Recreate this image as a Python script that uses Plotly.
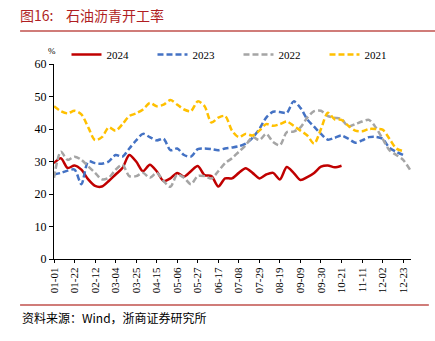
import datetime as dt
import plotly.graph_objects as go

# weekly categories (MM-DD), 53 weeks
start = dt.date(2024, 1, 1)
weeks = [(start + dt.timedelta(days=7 * i)).strftime("%m-%d") for i in range(53)]
tick_labels = weeks[0:52:3]

s2024 = [29.5, 31, 28, 28.8, 27.5, 24.5, 22.5, 22.3, 24, 26, 28, 32, 30, 27, 29, 27,
         24, 24.8, 26.5, 25.3, 27, 28.6, 25.8, 25.5, 22.3, 24.8, 24.8, 26.5, 27.9, 26.5,
         24.8, 26, 26.5, 24.5, 28.3, 26.5, 24.3, 25.2, 26.5, 28.4, 28.8, 28.2, 28.7]
s2023 = [26, 26.5, 27.2, 27.5, 23, 30, 29.5, 29.3, 30, 32, 31.5, 34, 36.5, 38.5, 37.5, 36.5,
         37, 33.5, 34, 32, 31.5, 33.8, 34, 33.8, 33.5, 34, 34.3, 34.7, 35.5, 37.3,
         40, 43.5, 45.3, 45.2, 45, 48.5, 46.5, 43, 40.7, 38.5, 36.7, 37.3, 38, 37, 35.8,
         36.5, 37.5, 37.6, 37, 34.2, 33, 32]
s2022 = [25, 33, 30.5, 31.5, 30.5, 28.5, 26.5, 24.5, 25, 27.5, 29, 25.5, 25.5, 26.5, 25, 26.5,
         24, 22.2, 26, 25, 23, 25.5, 25.5, 24.8, 27, 29.5, 31, 33, 35, 37.5,
         36.6, 38.5, 36, 35, 39, 39.2, 40.5, 43.5, 45.5, 45.6, 44, 43.5, 43, 40.8, 41.5,
         42.3, 42.8, 40.5, 37, 33.5, 32, 30.5, 27.5]
s2021 = [47, 45.5, 44.8, 45.6, 44.5, 40.5, 36.6, 37.5, 40.5, 39.5, 41.5, 44, 44.8, 46, 48, 47,
         47.5, 48.9, 47.5, 46, 45.5, 48.5, 47, 42, 43.5, 44, 39.5, 37.5, 38.5, 38,
         39.5, 41.5, 41, 41.5, 42.3, 41, 39.5, 38, 35.5, 40, 45, 43, 42.8, 41, 39.5,
         39.3, 40, 40, 39.8, 37, 34, 33.2]

series = [
    ("2024", s2024, "#C00000", "solid"),
    ("2023", s2023, "#4472C4", "6px,3px"),
    ("2022", s2022, "#A5A5A5", "6px,3px"),
    ("2021", s2021, "#FFC000", "6px,3px"),
]

fig = go.Figure()
for name, vals, color, dash in series:
    fig.add_trace(go.Scatter(
        x=weeks[:len(vals)], y=vals, name=name, mode="lines",
        line=dict(color=color, width=2.5, dash=dash, shape="spline", smoothing=0.8),
    ))

serif = "Liberation Serif, Times New Roman, serif"
cjk = "Noto Sans CJK SC"

fig.update_layout(
    width=435, height=341,
    margin=dict(l=54, r=24, t=64, b=82),
    paper_bgcolor="white", plot_bgcolor="white",
    font=dict(family=serif, size=11, color="#000000"),
    showlegend=True,
    legend=dict(orientation="h", x=0.035, y=0.975, xanchor="left", yanchor="bottom",
                font=dict(family=serif, size=11), entrywidth=41, entrywidthmode="pixels",
                bgcolor="rgba(0,0,0,0)"),
    xaxis=dict(
        type="category", categoryorder="array", categoryarray=weeks,
        range=[0, 52.15], tickmode="array", tickvals=tick_labels, ticktext=tick_labels,
        tickangle=-90, showline=True, linecolor="#000000", linewidth=1.2,
        ticks="outside", ticklen=3, tickcolor="#000000", showgrid=False,
        tickfont=dict(family=serif, size=11), zeroline=False,
    ),
    yaxis=dict(
        range=[0, 60], tickmode="array", tickvals=[0, 10, 20, 30, 40, 50, 60],
        showline=True, linecolor="#000000", linewidth=1.2, ticks="outside",
        ticklen=4, tickcolor="#000000", showgrid=False, zeroline=False,
        tickfont=dict(family=serif, size=12),
    ),
    title=dict(text="图16:    石油沥青开工率", x=20 / 435, xanchor="left", xref="container",
               y=1 - 16 / 341, yanchor="middle", yref="container",
               font=dict(family=cjk, size=14, color="#B01E23")),
)

fig.add_shape(type="line", xref="paper", yref="paper", x0=-0.095, x1=1.07,
              y0=(259 - 31) / 195, y1=(259 - 31) / 195,
              line=dict(color="#C0504D", width=1.5))
fig.add_shape(type="line", xref="paper", yref="paper", x0=-0.095, x1=1.05,
              y0=(259 - 305) / 195, y1=(259 - 305) / 195,
              line=dict(color="#C0504D", width=1.5))

fig.add_annotation(text="%", xref="paper", yref="paper", x=-0.006, y=(259 - 51) / 195,
                   showarrow=False, font=dict(family=serif, size=9), xanchor="center",
                   yanchor="middle")
fig.add_annotation(text="资料来源：Wind，浙商证券研究所", xref="paper", yref="paper",
                   x=(20 - 54) / 357, y=(259 - 317) / 195, xanchor="left", yanchor="middle",
                   showarrow=False, font=dict(family=cjk, size=12, color="#000000"))

fig.write_html("out.html")
